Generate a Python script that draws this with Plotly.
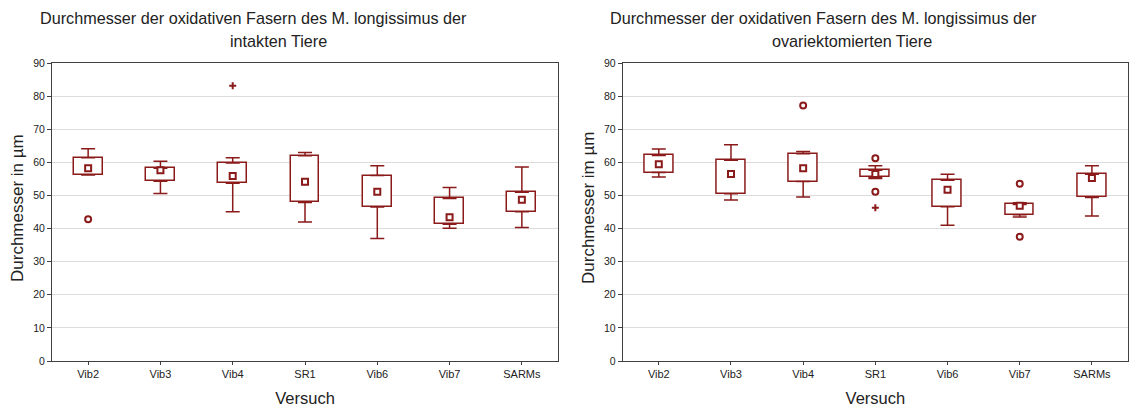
import plotly.graph_objects as go
from plotly.subplots import make_subplots

categories = ["Vib2", "Vib3", "Vib4", "SR1", "Vib6", "Vib7", "SARMs"]

# intakte Tiere
int_median = [58.2, 57.6, 55.9, 54.1, 51.1, 43.4, 48.7]
int_q1 = [56.2, 54.3, 53.7, 47.9, 46.5, 41.3, 45.1]
int_q3 = [61.4, 58.2, 59.8, 62.0, 56.0, 49.1, 51.0]
int_lower = [56.2, 50.6, 45.1, 42.0, 37.0, 40.1, 40.3]
int_upper = [64.1, 60.3, 61.4, 63.0, 59.0, 52.4, 58.6]
int_out_x = ["Vib2"]
int_out_y = [42.8]
int_ext_x = ["Vib4"]
int_ext_y = [83.1]

# ovariektomierte Tiere
ovx_median = [59.4, 56.5, 58.2, 56.5, 51.7, 46.9, 55.3]
ovx_q1 = [56.9, 50.5, 54.2, 55.5, 46.6, 44.2, 49.4]
ovx_q3 = [62.1, 60.6, 62.6, 57.6, 54.6, 47.3, 56.4]
ovx_lower = [55.6, 48.6, 49.5, 55.1, 41.0, 43.5, 43.8]
ovx_upper = [64.0, 65.3, 63.3, 59.0, 56.4, 47.8, 59.0]
ovx_out_x = ["Vib4", "SR1", "SR1", "Vib7", "Vib7"]
ovx_out_y = [77.2, 61.2, 51.1, 53.5, 37.5]
ovx_ext_x = ["SR1"]
ovx_ext_y = [46.3]

y_ticks = [0, 10, 20, 30, 40, 50, 60, 70, 80, 90]

RED = "#8B1A1A"
FONT = "Liberation Sans, Arial, sans-serif"

W, H = 1129, 410
ML, MR, MT, MB = 52, 1, 63, 49
PW = W - ML - MR
PH = H - MT - MB

def px_x(x):
    return (x - ML) / PW

def px_y(y):
    return (H - MB - y) / PH

fig = make_subplots(rows=1, cols=2)

def add_panel(col, med, q1, q3, lo, hi, ox, oy, ex, ey):
    fig.add_trace(go.Bar(
        x=categories, y=[b - a for a, b in zip(q1, q3)], base=q1, width=0.4,
        marker=dict(color="white", line=dict(color=RED, width=1.5)),
        hoverinfo="skip"), row=1, col=col)
    fig.add_trace(go.Scatter(
        x=categories, y=q3, mode="markers", marker=dict(size=1, opacity=0, color=RED),
        error_y=dict(type="data", symmetric=False,
                     array=[h - a for a, h in zip(q3, hi)], arrayminus=[0] * len(q3),
                     width=7, thickness=1.5, color=RED),
        hoverinfo="skip"), row=1, col=col)
    fig.add_trace(go.Scatter(
        x=categories, y=q1, mode="markers", marker=dict(size=1, opacity=0, color=RED),
        error_y=dict(type="data", symmetric=False,
                     array=[0] * len(q1), arrayminus=[a - l for a, l in zip(q1, lo)],
                     width=7, thickness=1.5, color=RED),
        hoverinfo="skip"), row=1, col=col)
    fig.add_trace(go.Scatter(
        x=categories, y=med, mode="markers",
        marker=dict(symbol="square", size=6, color="white", line=dict(color=RED, width=2))),
        row=1, col=col)
    fig.add_trace(go.Scatter(
        x=ox, y=oy, mode="markers",
        marker=dict(symbol="circle", size=6, color="white", line=dict(color=RED, width=2))),
        row=1, col=col)
    fig.add_trace(go.Scatter(
        x=ex, y=ey, mode="markers",
        marker=dict(symbol="cross-thin", size=5, color=RED, line=dict(color=RED, width=2))),
        row=1, col=col)

add_panel(1, int_median, int_q1, int_q3, int_lower, int_upper,
          int_out_x, int_out_y, int_ext_x, int_ext_y)
add_panel(2, ovx_median, ovx_q1, ovx_q3, ovx_lower, ovx_upper,
          ovx_out_x, ovx_out_y, ovx_ext_x, ovx_ext_y)

x1_dom = [0, px_x(558)]
x2_dom = [px_x(622.7), 1]

axis_common_x = dict(
    type="category", range=[-0.5, 6.5], showline=True, linecolor="#404040", linewidth=1,
    mirror=True, ticks="outside", ticklen=3, tickcolor="#404040", showgrid=False,
    tickfont=dict(family=FONT, size=11, color="#222"),
    title=dict(text="Versuch", font=dict(family=FONT, size=16.5, color="#222"), standoff=13),
)
axis_common_y = dict(
    range=[0, 90], tickvals=y_ticks, showline=True, linecolor="#404040", linewidth=1,
    mirror=True, ticks="outside", ticklen=4, tickcolor="#404040",
    showgrid=True, gridcolor="#DCDCDC", gridwidth=1, zeroline=False,
    tickfont=dict(family=FONT, size=10.5, color="#222"),
)

fig.update_layout(
    width=W, height=H, margin=dict(l=ML, r=MR, t=MT, b=MB),
    paper_bgcolor="white", plot_bgcolor="white", showlegend=False,
    bargap=0,
    xaxis=dict(domain=x1_dom, **axis_common_x),
    xaxis2=dict(domain=x2_dom, **axis_common_x),
    yaxis=dict(**axis_common_y),
    yaxis2=dict(**axis_common_y),
    font=dict(family=FONT, color="#222"),
)

title1 = "Durchmesser der oxidativen Fasern des M. longissimus der"
anns = [
    dict(text=title1, x=px_x(253), y=px_y(18)),
    dict(text="intakten Tiere", x=px_x(278), y=px_y(41)),
    dict(text=title1, x=px_x(823), y=px_y(18)),
    dict(text="ovariektomierten Tiere", x=px_x(852), y=px_y(41)),
]
for a in anns:
    fig.add_annotation(text=a["text"], x=a["x"], y=a["y"], xref="paper", yref="paper",
                       showarrow=False, xanchor="center", yanchor="middle",
                       font=dict(family=FONT, size=16.2, color="#222"))

fig.add_annotation(text="Durchmesser in µm", x=px_x(17), y=px_y(208), xref="paper", yref="paper",
                   showarrow=False, textangle=-90, xanchor="center", yanchor="middle",
                   font=dict(family=FONT, size=17, color="#222"))
fig.add_annotation(text="Durchmesser im µm", x=px_x(588), y=px_y(208), xref="paper", yref="paper",
                   showarrow=False, textangle=-90, xanchor="center", yanchor="middle",
                   font=dict(family=FONT, size=17, color="#222"))

fig.write_html("out.html")
